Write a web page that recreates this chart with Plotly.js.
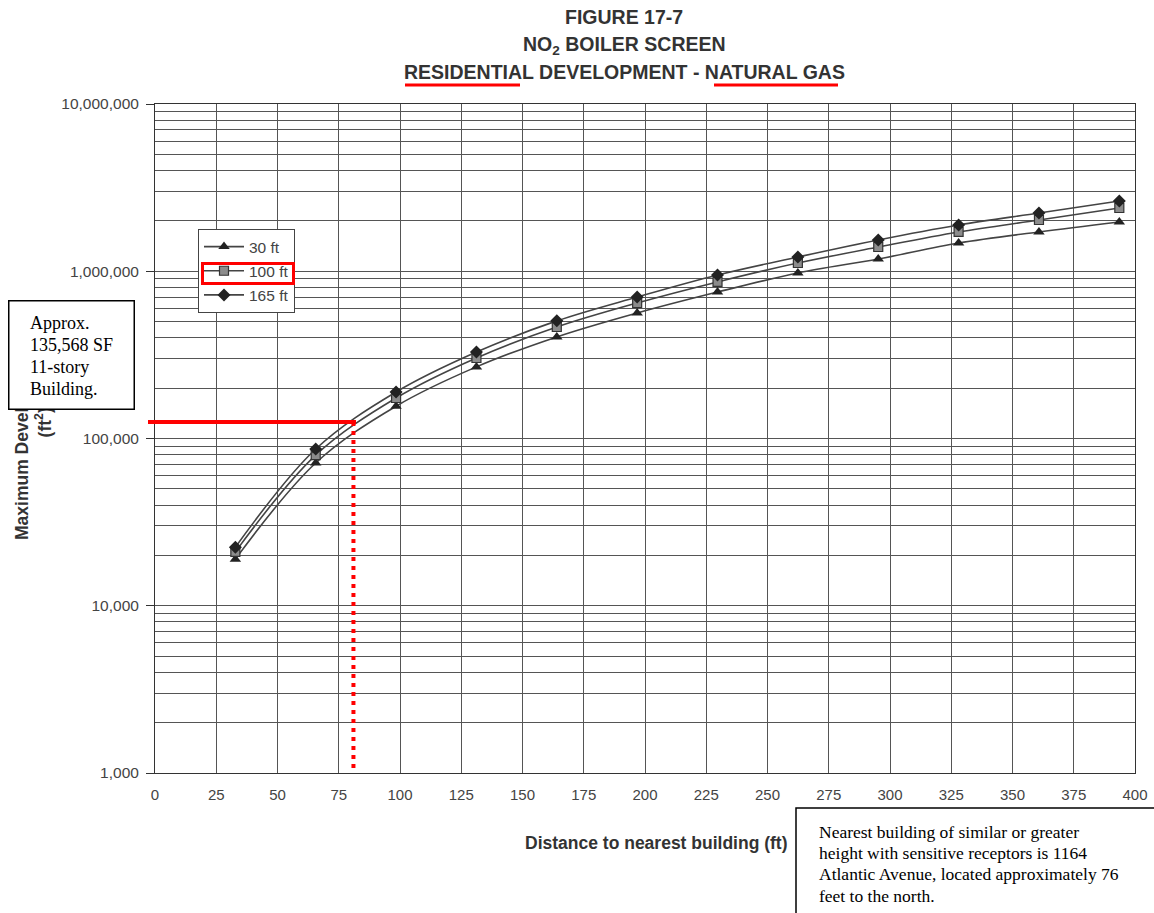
<!DOCTYPE html>
<html>
<head>
<meta charset="utf-8">
<script src="https://cdn.plot.ly/plotly-3.0.1.min.js"></script>
<style>html,body{margin:0;padding:0;background:#fff;}#chart{width:1154px;height:913px;}</style>
</head>
<body>
<div id="chart"></div>
<script>
// ---- data ----
const distanceFt = [32.8, 65.6, 98.4, 131.2, 164, 196.8, 229.6, 262.4, 295.2, 328, 360.8, 393.6];
const size30ft  = [19000, 71400, 156000, 268000, 405000, 563000, 751000, 977000, 1184000, 1475000, 1718000, 1970000];
const size100ft = [21000, 79600, 174700, 303000, 464000, 646000, 863000, 1120000, 1396000, 1718000, 2025000, 2388000];
const size165ft = [22400, 86500, 189700, 329000, 505000, 701000, 950000, 1217000, 1538000, 1891000, 2230000, 2630000];
const seriesNames = ["30 ft", "100 ft", "165 ft"];
const xTickVals = [0, 25, 50, 75, 100, 125, 150, 175, 200, 225, 250, 275, 300, 325, 350, 375, 400];
const yMajorVals = [1000, 10000, 100000, 1000000, 10000000];
const yMajorText = ["1,000", "10,000", "100,000", "1,000,000", "10,000,000"];
const markerY = 125568;   // approx. building size (SF)
const markerX = 81;       // distance where the red lines meet

const titleLines = ["FIGURE 17-7", "NO<sub>2</sub> BOILER SCREEN", "RESIDENTIAL DEVELOPMENT - NATURAL GAS"];
const leftBoxLines = ["Approx.", "135,568 SF", "11-story", "Building."];
const rightBoxLines = ["Nearest building of similar or greater", "height with sensitive receptors is 1164", "Atlantic Avenue, located approximately 76", "feet to the north."];

// ---- helpers (pixel -> paper) ----
const L = 155, R = 1135, T = 104, B = 773;
const px = p => (p - L) / (R - L);
const py = p => (B - p) / (B - T);

// minor gridline positions (2..9 x 10^n)
const yMinorVals = [];
for (let e = 3; e < 7; e++) {
  for (let d = 2; d <= 9; d++) yMinorVals.push(d * Math.pow(10, e));
}

const lineColor = "#444";
const traces = [
  {x: distanceFt, y: size30ft, name: seriesNames[0], mode: "lines+markers", legendgroup: "a",
   line: {color: lineColor, width: 1.6, shape: "spline"},
   marker: {symbol: "triangle-up", size: 10, color: "#222"}},
  {x: distanceFt, y: size100ft, name: seriesNames[1], mode: "lines+markers", legendgroup: "b",
   line: {color: lineColor, width: 1.6, shape: "spline"},
   marker: {symbol: "square", size: 9, color: "#8c8c8c", line: {color: "#333", width: 1.2}}},
  {x: distanceFt, y: size165ft, name: seriesNames[2], mode: "lines+markers", legendgroup: "c",
   line: {color: lineColor, width: 1.6, shape: "spline"},
   marker: {symbol: "diamond", size: 10, color: "#222"}}
];

const annotations = [];
const titleY = [17, 45, 72];
titleLines.forEach((t, i) => annotations.push({
  text: "<b>" + t + "</b>", xref: "paper", yref: "paper", x: px(624), y: py(titleY[i]),
  xanchor: "center", yanchor: "middle", showarrow: false,
  font: {family: "Liberation Sans, Arial", size: 19.5, color: "#333"}
}));
// y-axis title
annotations.push({
  text: "<b>Maximum Development Size<br>(ft<sup>2</sup>)</b>", xref: "paper", yref: "paper",
  x: px(33), y: py(422), textangle: -90, showarrow: false, xanchor: "center", yanchor: "middle",
  font: {family: "Liberation Sans, Arial", size: 17.5, color: "#333"}
});
// x-axis title
annotations.push({
  text: "<b>Distance to nearest building (ft)</b>", xref: "paper", yref: "paper",
  x: px(656), y: py(843), showarrow: false, xanchor: "center", yanchor: "middle",
  font: {family: "Liberation Sans, Arial", size: 17.5, color: "#333"}
});
// left white box (covers the y title), then its text
annotations.push({
  text: " ", xref: "paper", yref: "paper", x: px(8), y: py(300), xanchor: "left", yanchor: "top",
  width: 124, height: 107, borderpad: 0, bgcolor: "#fff", bordercolor: "#000", borderwidth: 1.5,
  showarrow: false
});
const leftY = [323, 345, 367, 389];
leftBoxLines.forEach((t, i) => annotations.push({
  text: t, xref: "paper", yref: "paper", x: px(28), y: py(leftY[i]), xanchor: "left", yanchor: "middle",
  showarrow: false, font: {family: "Liberation Serif, Times New Roman", size: 18, color: "#000"}
}));
const rightY = [832, 853, 874, 896];
rightBoxLines.forEach((t, i) => annotations.push({
  text: t, xref: "paper", yref: "paper", x: px(817), y: py(rightY[i]), xanchor: "left", yanchor: "middle",
  showarrow: false, font: {family: "Liberation Serif, Times New Roman", size: 17.5, color: "#000"}
}));
// red box around the "100 ft" legend entry
annotations.push({
  text: " ", xref: "paper", yref: "paper", x: px(201), y: py(262), xanchor: "left", yanchor: "top",
  width: 88, height: 17, borderpad: 0, bordercolor: "#ff0000", borderwidth: 3, showarrow: false
});

const shapes = [
  // title underlines
  {type: "line", xref: "paper", yref: "paper", x0: px(405), x1: px(520), y0: py(85), y1: py(85), line: {color: "#ff0000", width: 3}},
  {type: "line", xref: "paper", yref: "paper", x0: px(714), x1: px(838), y0: py(85), y1: py(85), line: {color: "#ff0000", width: 3}},
  // bottom right box
  {type: "rect", xref: "paper", yref: "paper", x0: px(796), x1: px(1170), y0: py(808), y1: py(930), fillcolor: "#fff", line: {color: "#000", width: 1.5}},
  // red horizontal line at building size
  {type: "line", xref: "paper", yref: "y", x0: px(148), x1: px(356), y0: markerY, y1: markerY, line: {color: "#ff0000", width: 4}, layer: "above"},
  // red vertical dotted line
  {type: "line", xref: "x", yref: "y", x0: markerX, x1: markerX, y0: markerY, y1: 1000, line: {color: "#ff0000", width: 4, dash: "4px,5px"}, layer: "above"}
];

const layout = {
  width: 1154, height: 913,
  margin: {l: L, r: 1154 - R, t: T, b: 913 - B},
  paper_bgcolor: "#fff", plot_bgcolor: "#fff",
  font: {family: "Liberation Sans, Arial", color: "#444"},
  showlegend: true,
  legend: {x: px(198), y: py(229), xanchor: "left", yanchor: "top", bgcolor: "#fff",
           bordercolor: "#444", borderwidth: 1, tracegroupgap: 1, itemwidth: 40,
           font: {family: "Liberation Sans, Arial", size: 15.5, color: "#444"}},
  xaxis: {range: [0, 400], tickvals: xTickVals, showgrid: true, gridcolor: "#555", gridwidth: 1,
          zeroline: false, showline: true, linecolor: "#333", mirror: true, ticks: "",
          ticklabelstandoff: 8, tickfont: {size: 15, color: "#444"}},
  yaxis: {type: "log", range: [3, 7], tickvals: yMajorVals, ticktext: yMajorText, showgrid: true,
          gridcolor: "#555", gridwidth: 1, zeroline: false, showline: true, linecolor: "#333", mirror: true,
          ticks: "outside", ticklen: 8, tickcolor: "#333", ticklabelstandoff: 4, tickfont: {size: 15.5, color: "#444"},
          minor: {tickvals: yMinorVals, showgrid: true, gridcolor: "#555", gridwidth: 1, ticks: ""}},
  annotations: annotations,
  shapes: shapes
};

Plotly.newPlot("chart", traces, layout, {displayModeBar: false, staticPlot: true});
</script>
</body>
</html>
